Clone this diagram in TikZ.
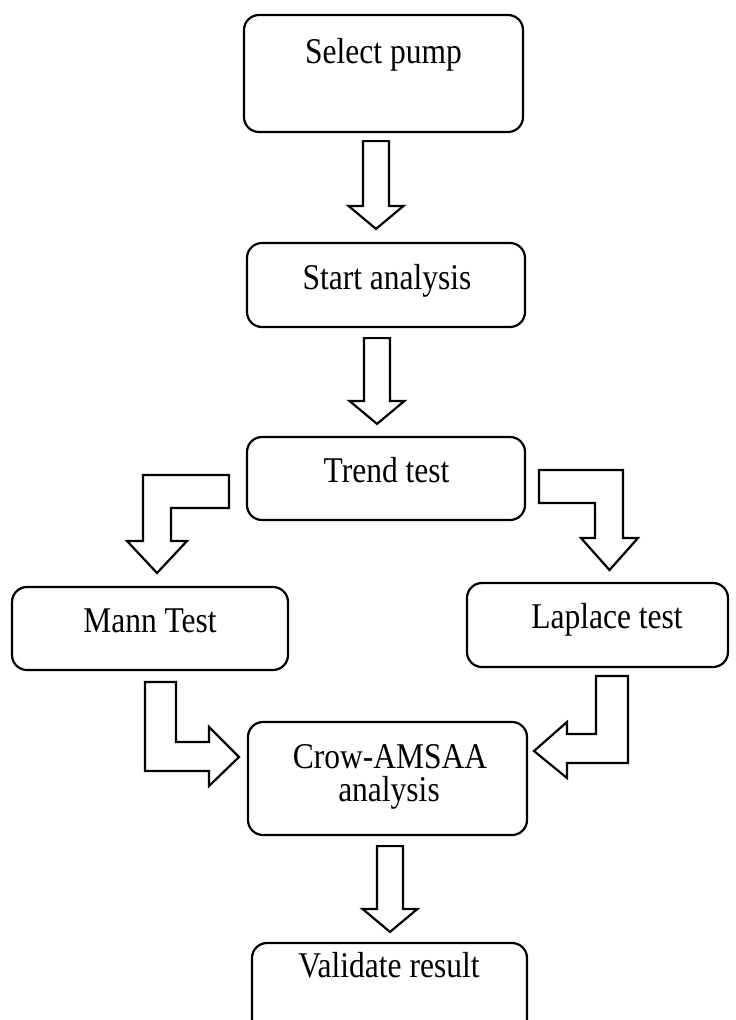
\documentclass[tikz,border=0pt]{standalone}
\usepackage{fontspec}
\usepackage{graphicx}
\setmainfont{Liberation Serif}
\usetikzlibrary{calc}
\tikzset{
  box/.style={draw=black, line width=2.2pt, rounded corners=15pt, rectangle, inner sep=0pt, fill=none},
  txt/.style={anchor=base, inner sep=0pt, font=\fontsize{31.5}{36}\selectfont},
  blk/.style={draw=black, line width=2.2pt, line join=miter, fill=white}
}
\newcommand{\st}[1]{\scalebox{1}[1.15]{#1}}
\begin{document}
\begin{tikzpicture}[x=1pt,y=-1pt]
\useasboundingbox (0,0) rectangle (736,1020);
% boxes
\node[box, minimum width=279, minimum height=117] (b1) at (383.5,73.5) {};
\node[box, minimum width=278, minimum height=84] (b2) at (386,285) {};
\node[box, minimum width=278, minimum height=83] (b3) at (386,478.5) {};
\node[box, minimum width=276, minimum height=83] (b4) at (150,628.5) {};
\node[box, minimum width=261, minimum height=84] (b5) at (597.5,625) {};
\node[box, minimum width=279, minimum height=113] (b6) at (387.5,778.5) {};
\node[box, minimum width=275, minimum height=110] (b7) at (389.5,998) {};
% texts
\node[txt] (t1) at (383.5,63) {\st{Select pump}};
\node[txt] (t2) at (387,289) {\st{Start analysis}};
\node[txt] (t3) at (386.5,482) {\st{Trend test}};
\node[txt] (t4) at (150,632) {\st{Mann Test}};
\node[txt] (t5) at (607,628) {\st{Laplace test}};
\node[txt] (t6a) at (390,768) {\st{Crow-AMSAA}};
\node[txt] (t6b) at (389,801) {\st{analysis}};
\node[txt] (t7) at (389,977) {\st{Validate result}};
% straight block arrows: start (top centre) and tip
\coordinate (a1s) at ($(b1.south)+(-7.5,8)$);
\coordinate (a1e) at ($(b2.north)+(-10,-13)$);
\coordinate (a2s) at ($(b2.south)+(-9,10)$);
\coordinate (a2e) at ($(b3.north)+(-9,-12)$);
\coordinate (a7s) at ($(b6.south)+(2.5,10)$);
\coordinate (a7e) at ($(b7.north)+(0.5,-10)$);
\foreach \s/\e in {a1s/a1e, a2s/a2e, a7s/a7e}{
  \draw[blk] ($(\s)+(-13,0)$) -- ($(\s)+(13,0)$) -- ($(\e)+(13,-23)$) -- ($(\e)+(27.5,-23)$)
    -- (\e) -- ($(\e)+(-27.5,-23)$) -- ($(\e)+(-13,-23)$) -- cycle;
}
% bent arrow: Trend test -> Mann Test
\coordinate (l1s) at (229,475);
\coordinate (l1e) at (157,573);
\draw[blk] (l1s) -- (143,475) -- (143,541) -- (127,541) -- (l1e) -- (187,541)
  -- (171,541) -- (171,508) -- (229,508) -- cycle;
% bent arrow: Trend test -> Laplace test
\coordinate (r1s) at (539,470);
\coordinate (r1e) at (609.5,570);
\draw[blk] (r1s) -- (623,470) -- (623,538) -- (638,538) -- (r1e) -- (581,538)
  -- (595,538) -- (595,503) -- (539,503) -- cycle;
% bent arrow: Mann Test -> Crow-AMSAA
\coordinate (l2s) at (145,682);
\coordinate (l2e) at (239,757);
\draw[blk] (l2s) -- (176,682) -- (176,742) -- (209,742) -- (209,727) -- (l2e)
  -- (209,786) -- (209,771) -- (145,771) -- cycle;
% bent arrow: Laplace test -> Crow-AMSAA
\coordinate (r2s) at (596,676);
\coordinate (r2e) at (534,751);
\draw[blk] (r2s) -- (628,676) -- (628,763) -- (567,763) -- (567,778) -- (r2e)
  -- (567,722) -- (567,734) -- (596,734) -- cycle;
\end{tikzpicture}
\end{document}
